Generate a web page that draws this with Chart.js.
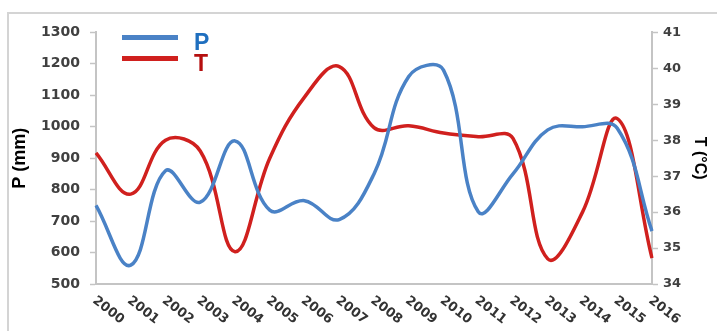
<!DOCTYPE html>
<html>
<head>
<meta charset="utf-8">
<script src="https://cdn.jsdelivr.net/npm/chart.js@4.4.1/dist/chart.umd.min.js"></script>
<style>
  html, body { margin: 0; padding: 0; background: #fff; }
  #frame {
    position: absolute; left: 7px; top: 12px;
    width: 708px; height: 330px;
    border: 2px solid #d4d4d4; border-right: none; border-bottom: none;
  }
  #wrap { position: absolute; left: 0; top: 0; width: 706px; height: 317px; }
</style>
</head>
<body>
<div id="frame"><div id="wrap"><canvas id="chart"></canvas></div></div>
<script>
const years = ["2000","2001","2002","2003","2004","2005","2006","2007","2008",
               "2009","2010","2011","2012","2013","2014","2015","2016"];
const precip = [750, 560, 860, 760, 955, 735, 765, 705, 850,
                1160, 1180, 730, 850, 990, 1000, 995, 668];
const temp = [37.65, 36.5, 38.0, 37.7, 34.9, 37.5, 39.2, 40.05, 38.35,
              38.4, 38.2, 38.1, 38.05, 34.7, 36.0, 38.6, 34.72];
const pTicks = [500, 1300, 100];
const tTicks = [34, 41, 1];

const blue = "#4a82c6";
const red = "#d0201e";

// rotated year labels under the axis + little legend in the corner
const extras = {
    id: "extras",
    afterDraw(chart) {
        const ctx = chart.ctx;
        const xs = chart.scales.x;
        ctx.save();
        ctx.font = "bold 13px 'DejaVu Sans'";
        ctx.fillStyle = "#333";
        ctx.textAlign = "left";
        ctx.textBaseline = "top";
        xs.ticks.forEach(function(t, i) {
            const x = xs.getPixelForTick(i);
            ctx.save();
            ctx.translate(x + 2, xs.top + 10);
            ctx.rotate(38 * Math.PI / 180);
            ctx.fillText(years[i], 0, 0);
            ctx.restore();
        });
        ctx.restore();

        const a = chart.chartArea;
        const txtCol = ["#1f6fbf", "#b50f0f"];
        ctx.save();
        chart.data.datasets.forEach(function(ds, i) {
            const y = a.top + 5 + i * 21;
            ctx.strokeStyle = ds.borderColor;
            ctx.lineWidth = 5;
            ctx.beginPath();
            ctx.moveTo(a.left + 26, y);
            ctx.lineTo(a.left + 82, y);
            ctx.stroke();
            ctx.fillStyle = txtCol[i];
            ctx.font = "bold 23px 'Liberation Sans'";
            ctx.textAlign = "left";
            ctx.textBaseline = "middle";
            ctx.fillText(ds.label, a.left + 98, y + 6);
        });
        ctx.restore();
    }
};

const plain = function(v) { return String(v); };

const ctx = document.getElementById("chart").getContext("2d");
const myChart = new Chart(ctx,
{
    type: "line",
    data:
    {
        labels: years,
        datasets:
        [{
            label: "P",
            data: precip,
            yAxisID: "yP",
            borderColor: blue,
            borderWidth: 3.5,
            pointRadius: 0,
            tension: 0.4
        },
        {
            label: "T",
            data: temp,
            yAxisID: "yT",
            borderColor: red,
            borderWidth: 3.5,
            pointRadius: 0,
            tension: 0.4
        }]
    },
    options:
    {
        responsive: true,
        maintainAspectRatio: false,
        animation: false,
        layout: { padding: { top: 16, left: 0, right: 0, bottom: 0 } },
        plugins: { legend: { display: false }, tooltip: { enabled: false } },
        scales:
        {
            x: {
                offset: false,
                grid: { display: false },
                border: { color: "#c4c4c4", width: 2 },
                ticks: { display: false },
                afterFit(s) { s.height = 47; }
            },
            yP: {
                position: "left",
                min: pTicks[0], max: pTicks[1],
                ticks: { stepSize: pTicks[2], padding: 10, color: "#404040", callback: plain,
                         font: { family: "DejaVu Sans", weight: "bold", size: 14 } },
                grid: { drawOnChartArea: false, tickLength: 6, color: "#c4c4c4", tickWidth: 1.5 },
                border: { color: "#c4c4c4", width: 2 },
                title: { display: true, text: "P (mm)", color: "#000", padding: 0,
                         font: { family: "Liberation Sans", weight: "bold", size: 18 } },
                afterFit(s) { s.width = 87; }
            },
            yT: {
                position: "right",
                min: tTicks[0], max: tTicks[1],
                ticks: { stepSize: tTicks[2], padding: 5, color: "#404040", callback: plain,
                         font: { family: "DejaVu Sans", weight: "bold", size: 13 } },
                grid: { drawOnChartArea: false, tickLength: 6, color: "#c4c4c4", tickWidth: 1.5 },
                border: { color: "#c4c4c4", width: 2 },
                title: { display: true, text: "T (°C)", color: "#000", padding: 6,
                         font: { family: "Liberation Sans", weight: "bold", size: 16 } },
                afterFit(s) { s.width = 63; }
            }
        }
    },
    plugins: [extras]
});
</script>
</body>
</html>
